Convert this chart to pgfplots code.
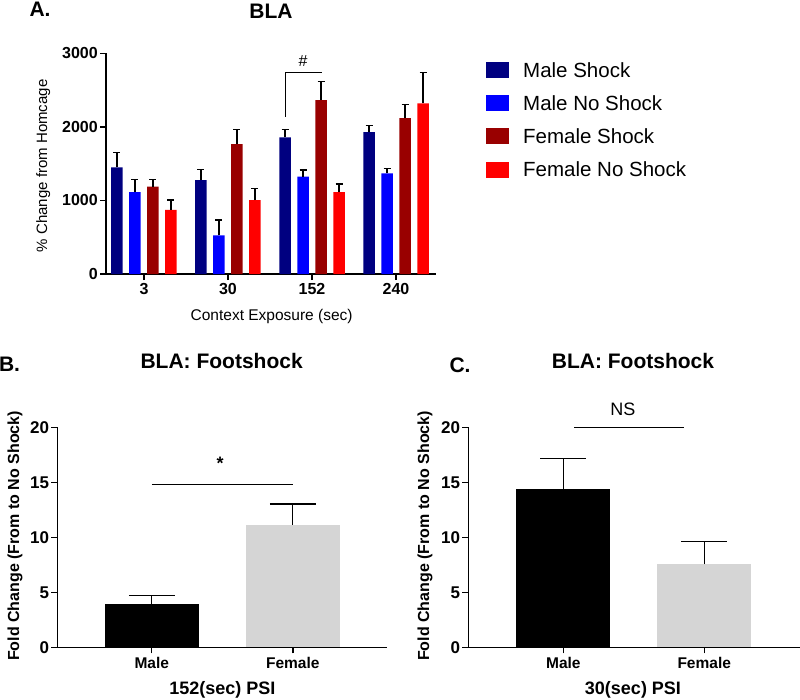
\documentclass[border=0pt]{standalone}
\usepackage{pgfplots}
\pgfplotsset{compat=1.18}
\usepackage{fontspec}
\setmainfont{Liberation Sans}
\definecolor{navyb}{RGB}{0,0,128}
\definecolor{blueb}{RGB}{0,0,255}
\definecolor{darkredb}{RGB}{153,0,0}
\definecolor{redb}{RGB}{255,0,0}
\definecolor{grayb}{RGB}{213,213,213}
\newcommand{\fs}[1]{\fontsize{#1}{#1}\selectfont}

\pgfplotsset{
  gp/.style={
    scale only axis,
    axis lines=left,
    axis line style={line width=1.4pt,-},
    tick align=outside,
    major tick length=6pt,
    every tick/.style={black, line width=1.4pt},
    minor tick num=0,
    /pgf/number format/assume math mode=true,
    /pgf/number format/1000 sep={},
    ticklabel style={font=\bfseries\fs{16}},
    yticklabel style={inner sep=2pt},
    clip=false,
    error bars/error bar style={line width=1.3pt, black},
  }
}

\pgfplotstableread{
x y e
0 1450 198
1 1277 145
2 1857 109
3 1929 91
}\ms
\pgfplotstableread{
x y e
0 1114 173
1 526 208
2 1322 91
3 1368 63
}\mns
\pgfplotstableread{
x y e
0 1186 101
1 1766 200
2 2364 254
3 2120 180
}\fsh
\pgfplotstableread{
x y e
0 870 135
1 1005 154
2 1114 109
3 2319 416
}\fns

\begin{document}
\begin{tikzpicture}
\path[use as bounding box] (0pt,0pt) rectangle (800pt,-700pt);

% Panel labels
\node[font=\bfseries\fs{21}] at (40pt,-9pt) {A.};
\node[font=\bfseries\fs{21}] at (9.5pt,-364pt) {B.};
\node[font=\bfseries\fs{21}] at (460pt,-365pt) {C.};

% ---------------- Panel A ----------------
\begin{axis}[gp,
  at={(106pt,-274pt)}, anchor=south west,
  width=330pt, height=220.7pt,
  ybar=6.5pt, bar width=11.5pt,
  xmin=-0.452, xmax=3.476,
  ymin=0, ymax=3000,
  ytick={0,1000,2000,3000},
  xtick=data, xticklabels={3,30,152,240},
  title={BLA},
  title style={at={(axis description cs:0.5,1.161)}, anchor=center, font=\bfseries\fs{21}},
  xlabel={Context Exposure (sec)},
  xlabel style={at={(axis description cs:0.502,-0.193)}, anchor=center, font=\fs{15.5}},
  ylabel={\% Change from Homcage},
  ylabel style={at={(axis description cs:-0.19,0.49)}, anchor=center, font=\fs{15}},
  error bars/error mark options={rotate=90, line width=1.3pt, black, mark size=3.5pt},
  legend style={at={(axis description cs:1.1515,0.9606)}, anchor=north west,
    draw=none, fill=none, inner sep=0pt, font=\fs{20.5}, row sep=16.7pt,
    nodes={inner sep=0pt},
    /tikz/every odd column/.append style={column sep=14pt}},
  legend cell align=left,
  legend image code/.code={\fill[#1] (0pt,-8pt) rectangle (23pt,8pt);},
]
\addplot[fill=navyb, draw=none, error bars/.cd, y dir=plus, y explicit] table[x=x,y=y,y error=e]{\ms};
\addplot[fill=blueb, draw=none, error bars/.cd, y dir=plus, y explicit] table[x=x,y=y,y error=e]{\mns};
\addplot[fill=darkredb, draw=none, error bars/.cd, y dir=plus, y explicit] table[x=x,y=y,y error=e]{\fsh};
\addplot[fill=redb, draw=none, error bars/.cd, y dir=plus, y explicit] table[x=x,y=y,y error=e]{\fns};
\legend{Male Shock, Male No Shock, Female Shock, Female No Shock}
\draw[line width=1pt] (axis cs:1.679,2137) -- (axis cs:1.679,2745) -- (axis cs:2.12,2745);
\node[anchor=base, font=\fs{16}] at (axis cs:1.893,2817) {\#};
\end{axis}

% ---------------- Panel B ----------------
\begin{axis}[gp,
  at={(57.3pt,-647.3pt)}, anchor=south west,
  width=330pt, height=220pt,
  ybar, bar width=94pt,
  xmin=-0.67, xmax=1.67,
  ymin=0, ymax=20,
  ytick={0,5,10,15,20},
  xtick={0,1}, xticklabels={Male,Female},
  ticklabel style={font=\bfseries\fs{17}},
  xticklabel style={font=\bfseries\fs{15.5}},
  title={BLA: Footshock},
  title style={at={(axis description cs:0.498,1.2755)}, anchor=center, font=\bfseries\fs{21}},
  xlabel={152(sec) PSI},
  xlabel style={at={(axis description cs:0.5,-0.194)}, anchor=center, font=\bfseries\fs{18}},
  ylabel={Fold Change (From to No Shock)},
  ylabel style={at={(axis description cs:-0.128,0.506)}, anchor=center, font=\bfseries\fs{16}},
  error bars/error mark options={rotate=90, line width=1.3pt, black, mark size=23pt},
]
\addplot[fill=black, draw=none, bar shift=0pt, error bars/.cd, y dir=plus, y explicit] coordinates {(0,3.94) +- (0,0.79)};
\addplot[fill=grayb, draw=none, bar shift=0pt, error bars/.cd, y dir=plus, y explicit] coordinates {(1,11.15) +- (0,1.88)};
\draw[line width=1pt] (axis cs:0,14.76) -- (axis cs:1,14.76);
\node[anchor=base, font=\bfseries\fs{18}] at (axis cs:0.484,16.2) {*};
\end{axis}

% ---------------- Panel C ----------------
\begin{axis}[gp,
  at={(468.3pt,-647.3pt)}, anchor=south west,
  width=331.7pt, height=220pt,
  ybar, bar width=94pt,
  xmin=-0.675, xmax=1.68,
  ymin=0, ymax=20,
  ytick={0,5,10,15,20},
  xtick={0,1}, xticklabels={Male,Female},
  ticklabel style={font=\bfseries\fs{17}},
  xticklabel style={font=\bfseries\fs{15.5}},
  title={BLA: Footshock},
  title style={at={(axis description cs:0.4965,1.2755)}, anchor=center, font=\bfseries\fs{21}},
  xlabel={30(sec) PSI},
  xlabel style={at={(axis description cs:0.4965,-0.194)}, anchor=center, font=\bfseries\fs{18}},
  ylabel={Fold Change (From to No Shock)},
  ylabel style={at={(axis description cs:-0.1305,0.506)}, anchor=center, font=\bfseries\fs{16}},
  error bars/error mark options={rotate=90, line width=1.3pt, black, mark size=23pt},
]
\addplot[fill=black, draw=none, bar shift=0pt, error bars/.cd, y dir=plus, y explicit] coordinates {(0,14.36) +- (0,2.79)};
\addplot[fill=grayb, draw=none, bar shift=0pt, error bars/.cd, y dir=plus, y explicit] coordinates {(1,7.57) +- (0,2.03)};
\draw[line width=1pt] (axis cs:0.076,20) -- (axis cs:0.858,20);
\node[anchor=base, font=\fs{18}] at (axis cs:0.422,21.1) {NS};
\end{axis}
\end{tikzpicture}
\end{document}
